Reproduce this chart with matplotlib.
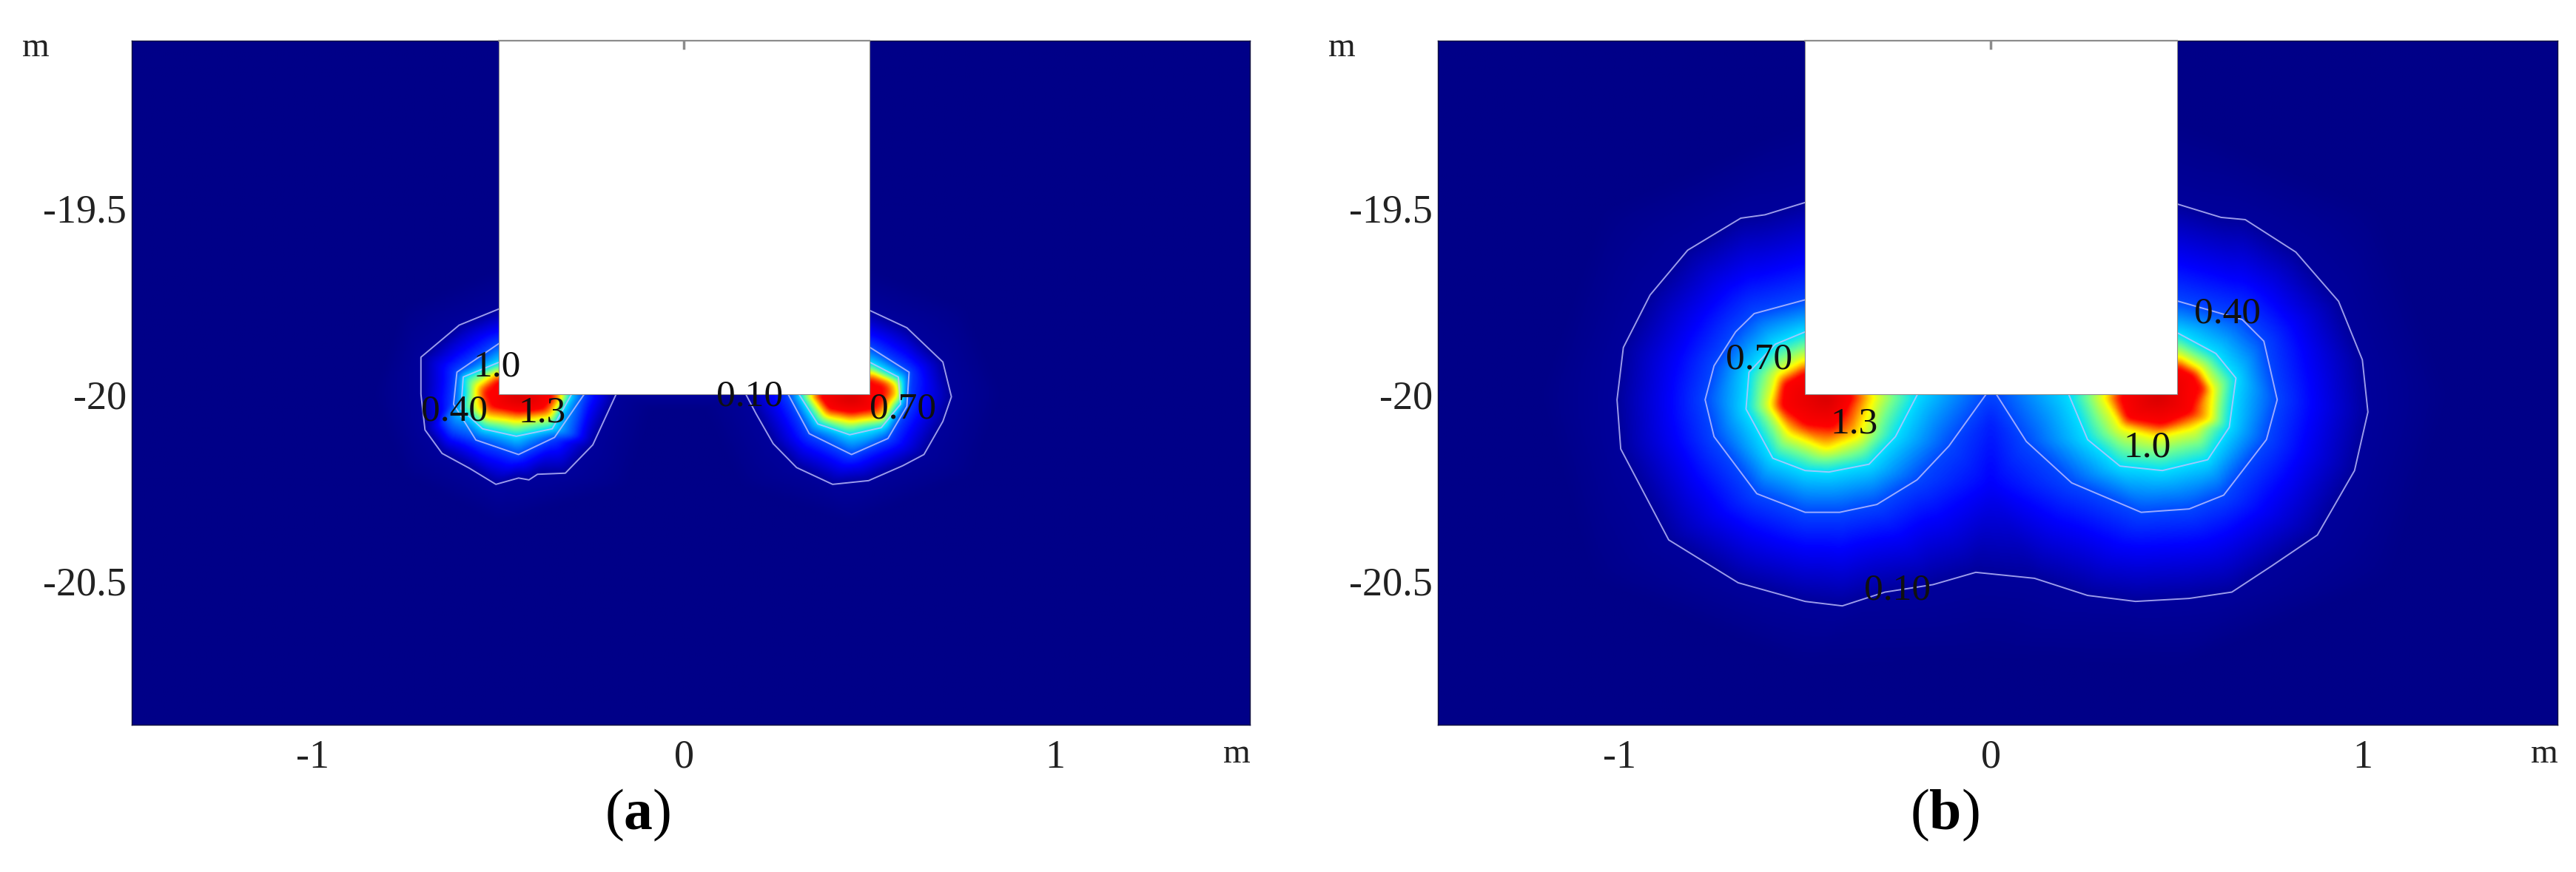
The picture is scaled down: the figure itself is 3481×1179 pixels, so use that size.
import numpy as np
import matplotlib
matplotlib.use("Agg")
import matplotlib.pyplot as plt
import matplotlib.patches as patches
import matplotlib.tri as mtri
from matplotlib.colors import LinearSegmentedColormap

plt.rcParams['font.family'] = ['Liberation Serif', 'DejaVu Serif']
plt.rcParams['mathtext.fontset'] = 'custom'
plt.rcParams['mathtext.rm'] = 'Liberation Serif'
plt.rcParams['mathtext.bf'] = 'Liberation Serif:bold'

# iso-lines, (x, y) in metres
a_010_l = [(-.500,-19.772),(-.606,-19.815),(-.709,-19.901),(-.709,-20.000),(-.698,-20.096),(-.652,-20.159),(-.578,-20.199),(-.507,-20.242),(-.446,-20.225),(-.418,-20.230),(-.395,-20.215),(-.320,-20.212),(-.246,-20.136),(-.183,-20.000)]
a_010_r = [(.166,-20.000),(.194,-20.053),(.240,-20.133),(.303,-20.197),(.400,-20.242),(.497,-20.232),(.589,-20.192),(.646,-20.162),(.697,-20.073),(.720,-20.007),(.697,-19.914),(.600,-19.822),(.501,-19.776)]
a_040_l = [(-.500,-19.865),(-.612,-19.941),(-.621,-20.027),(-.561,-20.123),(-.446,-20.162),(-.349,-20.116),(-.269,-20.000)]
a_040_r = [(.280,-20.000),(.337,-20.106),(.451,-20.162),(.549,-20.119),(.600,-20.033),(.606,-19.941),(.501,-19.875)]
a_070_l = [(-.500,-19.915),(-.595,-19.954),(-.601,-20.040),(-.543,-20.093),(-.452,-20.113),(-.355,-20.093),(-.303,-20.000)]
a_070_r = [(.309,-20.000),(.360,-20.080),(.446,-20.109),(.531,-20.090),(.583,-20.027),(.577,-19.954),(.501,-19.915)]
a_100_l = [(-.500,-19.941),(-.561,-19.981),(-.555,-20.040),(-.452,-20.073),(-.360,-20.060),(-.326,-20.000)]
a_100_r = [(.337,-20.000),(.383,-20.060),(.451,-20.073),(.537,-20.060),(.577,-20.007),(.572,-19.974),(.501,-19.941)]
a_130_l = [(-.500,-19.961),(-.538,-19.994),(-.521,-20.033),(-.446,-20.047),(-.378,-20.040),(-.349,-20.000)]
a_130_r = [(.360,-20.000),(.389,-20.040),(.451,-20.050),(.514,-20.040),(.543,-20.000),(.537,-19.974),(.501,-19.961)]

b_010 = [(-.500,-19.486),(-.608,-19.519),(-.673,-19.528),(-.816,-19.614),(-.917,-19.734),(-.989,-19.875),(-1.006,-20.015),(-.996,-20.147),(-.867,-20.391),(-.680,-20.506),(-.500,-20.556),(-.400,-20.568),(-.285,-20.531),(-.156,-20.511),(-.041,-20.478),(.117,-20.494),(.260,-20.540),(.389,-20.556),(.533,-20.548),(.648,-20.531),(.755,-20.461),(.878,-20.378),(.978,-20.205),(1.014,-20.048),(.999,-19.908),(.935,-19.751),(.820,-19.619),(.684,-19.532),(.619,-19.526),(.504,-19.491)]
b_040_l = [(-.500,-19.747),(-.637,-19.784),(-.687,-19.833),(-.745,-19.924),(-.769,-20.015),(-.745,-20.114),(-.630,-20.267),(-.500,-20.317),(-.407,-20.317),(-.307,-20.296),(-.199,-20.230),(-.113,-20.139),(-.015,-20.003)]
b_040_r = [(.016,-20.003),(.095,-20.127),(.217,-20.238),(.404,-20.317),(.533,-20.308),(.626,-20.271),(.741,-20.122),(.770,-20.015),(.734,-19.858),(.676,-19.800),(.504,-19.751)]
b_070_l = [(-.500,-19.833),(-.580,-19.866),(-.651,-19.941),(-.659,-20.040),(-.587,-20.172),(-.500,-20.205),(-.436,-20.209),(-.328,-20.188),(-.257,-20.114),(-.199,-20.003)]
b_070_r = [(.210,-20.003),(.260,-20.122),(.347,-20.193),(.461,-20.205),(.583,-20.176),(.641,-20.089),(.659,-19.957),(.605,-19.891),(.504,-19.837)]
b_100_l = [(-.500,-19.908),(-.572,-19.949),(-.594,-20.032),(-.544,-20.106),(-.443,-20.147),(-.357,-20.114),(-.314,-20.003)]
b_100_r = [(.303,-20.003),(.353,-20.089),(.447,-20.114),(.547,-20.089),(.597,-19.990),(.562,-19.932),(.504,-19.899)]
b_130_l = [(-.500,-19.941),(-.558,-19.974),(-.565,-20.032),(-.500,-20.081),(-.429,-20.089),(-.393,-20.048),(-.371,-20.003)]
b_130_r = [(.346,-20.003),(.368,-20.065),(.461,-20.081),(.540,-20.048),(.569,-19.982),(.547,-19.949),(.504,-19.928)]

# other field samples, (x, y, value)
a_extra = [(-.44,-20.01,1.6),(.45,-20.01,1.6),(0,-20.1,0),(-.08,-20.04,0),(.05,-20.04,0),(0,-20.3,0),
           (-.84,-20,0),(.86,-20,0),(-.76,-20.22,0),(.78,-20.22,0),(-.5,-20.35,0),(.45,-20.35,0),
           (-.76,-19.76,0),(.76,-19.76,0),(-.5,-19.66,0),(.5,-19.66,0),(-.15,-20.25,0),(.15,-20.25,0)]
b_extra = [(-.44,-20.01,1.6),(.45,-20.01,1.6),(0,-20.25,.27),(0,-20.08,.33),(0,-19.6,.3),
           (-1.22,-20,0),(1.24,-20,0),(0,-20.72,0),(-.5,-20.74,0),(.5,-20.74,0),
           (-1.08,-20.5,0),(1.08,-20.5,0),(-1.05,-19.5,0),(1.05,-19.5,0),(-.55,-19.28,0),(.55,-19.28,0)]
edge_x = [-1.49, 0, 1.53]
edge_y = [-19.05, -20.0, -20.89]

level_colors = [(0, '#000088'), (.1, '#00009c'), (.28, '#0000ff'), (.4, '#0048ff'), (.7, '#00e0ff'),
                (.85, '#70ff90'), (1.0, '#ffff00'), (1.15, '#ff8000'), (1.3, '#ff0000'), (1.6, '#d80000')]

a_lines = [(a_010_l, .1), (a_010_r, .1), (a_040_l, .4), (a_040_r, .4), (a_070_l, .7), (a_070_r, .7), (a_100_l, 1.0), (a_100_r, 1.0), (a_130_l, 1.3), (a_130_r, 1.3)]
b_lines = [(b_010, .1), (b_040_l, .4), (b_040_r, .4), (b_070_l, .7), (b_070_r, .7), (b_100_l, 1.0), (b_100_r, 1.0), (b_130_l, 1.3), (b_130_r, 1.3)]

a_labels = [("1.0", -.503, -19.928), ("0.40", -.618, -20.047), ("1.3", -.383, -20.050), ("0.10", .177, -20.007), ("0.70", .589, -20.040)]
b_labels = [("0.70", -.623, -19.908), ("0.40", .636, -19.784), ("1.3", -.367, -20.081), ("1.0", .421, -20.143), ("0.10", -.252, -20.527)]

cmap = LinearSegmentedColormap.from_list('field', [(v / 1.6, c) for v, c in level_colors])


def blur(z, n):
    kernel = np.ones(n) / n
    pad = np.pad(z, n, mode='edge')
    pad = np.apply_along_axis(lambda r: np.convolve(r, kernel, mode='same'), 0, pad)
    pad = np.apply_along_axis(lambda r: np.convolve(r, kernel, mode='same'), 1, pad)
    return pad[n:-n, n:-n]


def draw_panel(left_px, right_px, lines, extra, labels, letter, letter_px):
    ax = fig.add_axes([left_px / W, 1 - 980 / H, (right_px - left_px) / W, 925 / H])
    xlim = (-1.488, edge_x[-1] - .006)
    ylim = (-20.887, -19.052)

    xs, ys, zs = [], [], []
    for pts, level in lines:
        for x, y in pts:
            xs.append(x); ys.append(y); zs.append(level)
    for x, y, v in extra:
        xs.append(x); ys.append(y); zs.append(v)
    for x in edge_x:
        for y in edge_y:
            if x == 0 and y == -20.0:
                continue
            xs.append(x); ys.append(y); zs.append(0)

    tri = mtri.Triangulation(xs, ys)
    interp = mtri.LinearTriInterpolator(tri, zs)
    gx, gy = np.meshgrid(np.linspace(xlim[0], xlim[1], 1000), np.linspace(ylim[0], ylim[1], 620))
    gz = np.ma.filled(interp(gx, gy), 0)
    gz = blur(gz, 9)
    ax.imshow(gz, extent=(xlim[0], xlim[1], ylim[0], ylim[1]), origin='lower', cmap=cmap,
              vmin=0, vmax=1.6, aspect='auto', interpolation='bilinear')

    # only the three outer iso-lines are actually drawn in the figure
    for pts, level in lines:
        if level < 1:
            p = np.array(pts)
            ax.plot(p[:, 0], p[:, 1], color='#c4c4ff', lw=1.4, alpha=.8, zorder=3)

    block = patches.Rectangle((-.5, -20), 1, 1.2, facecolor='white', edgecolor='#909090', lw=.8, zorder=4)
    ax.add_patch(block)
    # grey top edge over the block and the small tick at x=0
    ax.plot([-.5, .5], [ylim[1], ylim[1]], color='#8c8c8c', lw=1.6, zorder=6, clip_on=False)
    ax.plot([0, 0], [ylim[1], ylim[1] - .02], color='#8c8c8c', lw=2.5, zorder=6)

    for txt, x, y in labels:
        ax.text(x, y, txt, fontsize=37, color='#101010', ha='center', va='center', zorder=5)

    ax.set_xlim(xlim)
    ax.set_ylim(ylim)
    ax.set_xticks([-1, 0, 1])
    ax.set_xticklabels(['-1', '0', '1'])
    ax.set_yticks([-20.5, -20, -19.5])
    ax.set_yticklabels(['-20.5', '-20', '-19.5'])
    ax.tick_params(length=0, labelsize=39, labelcolor='#222222')
    ax.tick_params(axis='x', pad=14)
    ax.tick_params(axis='y', pad=5)
    for s in ax.spines.values():
        s.set_linewidth(1)
        s.set_color('#101040')

    fig.text((left_px - 130) / W, 1 - 65 / H, 'm', fontsize=34, color='#222222', ha='center', va='center')
    fig.text((right_px - 18) / W, 1 - 1020 / H, 'm', fontsize=34, color='#222222', ha='center', va='center')
    fig.text(letter_px / W, 1 - 1102 / H, r'($\mathbf{' + letter + '}$)', fontsize=56, color='black', ha='center', va='center')


W, H = 3481, 1179
fig = plt.figure(figsize=(W / 100, H / 100), dpi=100, facecolor='white')

draw_panel(178, 1689, a_lines, a_extra, a_labels, 'a', 862)
draw_panel(1943, 3456, b_lines, b_extra, b_labels, 'b', 2628)

fig.savefig('out.png', dpi=100)
